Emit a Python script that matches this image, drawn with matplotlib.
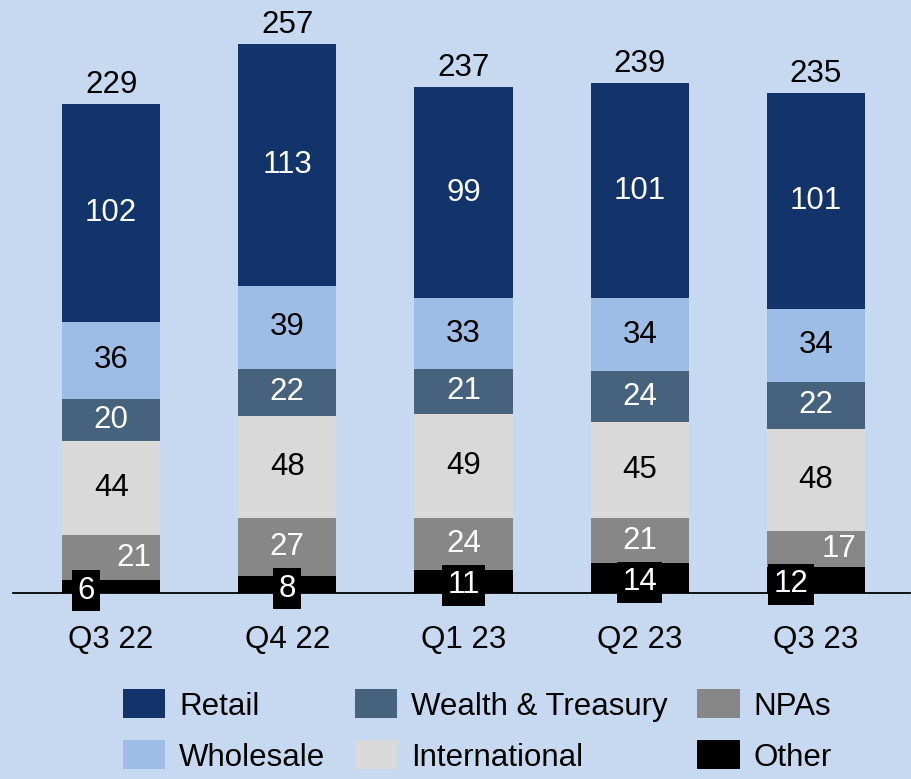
import matplotlib
matplotlib.use("Agg")
import matplotlib.pyplot as plt
import numpy as np

plt.rcParams['font.family'] = ['Liberation Sans', 'DejaVu Sans']

quarters = ["Q3 22", "Q4 22", "Q1 23", "Q2 23", "Q3 23"]
other = [6, 8, 11, 14, 12]
npas = [21, 27, 24, 21, 17]
international = [44, 48, 49, 45, 48]
wealth_treasury = [20, 22, 21, 24, 22]
wholesale = [36, 39, 33, 34, 34]
retail = [102, 113, 99, 101, 101]
totals = [229, 257, 237, 239, 235]

# label nudges (in points) for small segments
other_dx = [-18, 0, 0, 0, -18]
npa_dx = [16, 0, 0, 0, 17]

bg = "#C6D9F0"
series = [
    ("Other", other, "#000000", "white"),
    ("NPAs", npas, "#878787", "white"),
    ("International", international, "#D9D9D9", "black"),
    ("Wealth & Treasury", wealth_treasury, "#46627D", "white"),
    ("Wholesale", wholesale, "#9DBDE6", "black"),
    ("Retail", retail, "#13346B", "white"),
]

W, H = 911, 779
fig = plt.figure(figsize=(W / 100, H / 100), dpi=100, facecolor=bg)
ax = fig.add_axes([13 / W, (H - 593) / H, (910 - 13) / W, 593 / H])
ax.set_facecolor(bg)

x = np.arange(len(quarters))
bottom = np.zeros(len(quarters))
handles = {}
fs = 22.5
for name, vals, col, tcol in series:
    vals = np.array(vals, dtype=float)
    b = ax.bar(x, vals, bottom=bottom, width=0.557, color=col, edgecolor="none", label=name)
    handles[name] = b
    for i, v in enumerate(vals):
        yc = bottom[i] + v / 2
        if name == "Other":
            ax.annotate(f"{int(v)}", (x[i], yc), xytext=(other_dx[i], -3), textcoords="offset points",
                        ha="center", va="center", color="white", fontsize=fs,
                        bbox=dict(boxstyle="square,pad=0.17", fc="black", ec="none"),
                        annotation_clip=False, zorder=5)
        elif name == "NPAs":
            ax.annotate(f"{int(v)}", (x[i], yc), xytext=(npa_dx[i], 0), textcoords="offset points",
                        ha="center", va="center", color=tcol, fontsize=fs)
        else:
            ax.text(x[i], yc, f"{int(v)}", ha="center", va="center", color=tcol, fontsize=fs)
    bottom += vals

for i, t in enumerate(totals):
    ax.annotate(f"{t}", (x[i], bottom[i]), xytext=(0, 8), textcoords="offset points",
                ha="center", va="baseline", color="black", fontsize=fs, annotation_clip=False)

ax.set_xlim(-0.557, 4.534)
ax.set_ylim(0, 593 / 2.135)
ax.set_yticks([])
ax.set_xticks(x)
ax.set_xticklabels(quarters, fontsize=fs)
ax.tick_params(axis="x", length=0, pad=23)
for s in ["top", "left", "right"]:
    ax.spines[s].set_visible(False)
ax.spines["bottom"].set_linewidth(1.3)
ax.spines["bottom"].set_color("black")

order = ["Retail", "Wholesale", "Wealth & Treasury", "International", "NPAs", "Other"]
fig.legend([handles[n] for n in order], order, loc="center", bbox_to_anchor=(0.524, 1 - 731 / H),
           ncol=3, frameon=False, fontsize=fs, handlelength=1.35, handleheight=1.05,
           handletextpad=0.45, columnspacing=0.95, labelspacing=0.6, borderpad=0)

fig.savefig("out.png", dpi=100, facecolor=bg)
